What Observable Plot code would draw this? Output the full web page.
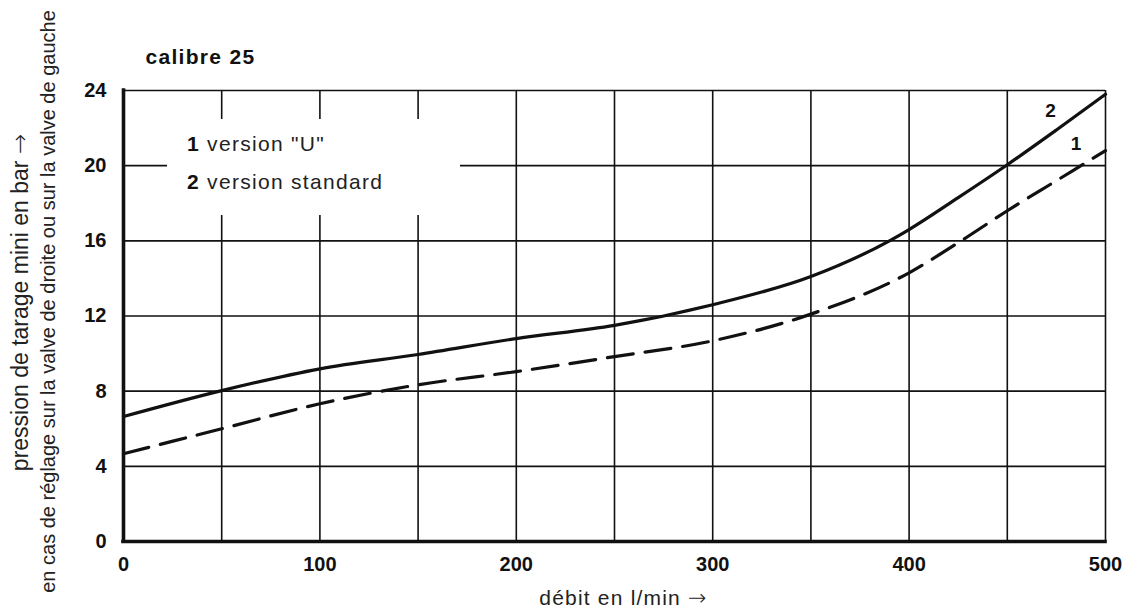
<!DOCTYPE html>
<html>
<head>
<meta charset="utf-8">
<script src="https://cdn.jsdelivr.net/npm/d3@7"></script>
<script src="https://cdn.jsdelivr.net/npm/@observablehq/plot@0.6"></script>
<style>
  html, body { margin: 0; padding: 0; background: #fff; }
  #wrap { position: relative; width: 1123px; height: 614px; font-family: "Liberation Sans", Arial, sans-serif; }
  #legend { position: absolute; left: 167px; top: 119px; width: 293px; height: 96px; background: #fff; color: #222; font-size: 21px; letter-spacing: 1.3px; }
  #legend div { position: absolute; left: 20px; white-space: nowrap; }
  #legend b { color: #111; }
</style>
</head>
<body>
<div id="wrap"></div>
<script>
// ---- data ----
const title = "calibre 25";
const xLabel = "débit en l/min →";
const yLabel1 = "pression de tarage mini en bar →";
const yLabel2 = "en cas de réglage sur la valve de droite ou sur la valve de gauche";

const xTicks = [0, 100, 200, 300, 400, 500];
const yTicks = [0, 4, 8, 12, 16, 20, 24];
const xGrid = [50, 100, 150, 200, 250, 300, 350, 400, 450, 500];
const yGrid = [4, 8, 12, 16, 20, 24];

// series 2 : version standard (solid)
const flowStd  = [0, 50, 100, 150, 200, 250, 300, 350, 390, 400, 425, 450, 475, 500];
const pressStd = [6.65, 8.03, 9.19, 9.95, 10.8, 11.5, 12.6, 14.1, 16.0, 16.6, 18.3, 20.05, 21.9, 23.8];
// series 1 : version "U" (dashed)
const flowU  = [0, 50, 100, 150, 200, 250, 300, 350, 400, 425, 450, 475, 500];
const pressU = [4.67, 6.0, 7.33, 8.34, 9.04, 9.84, 10.68, 12.1, 14.3, 15.9, 17.6, 19.2, 20.8];

const legendItems = [
  {id: "1", label: 'version "U"'},
  {id: "2", label: "version standard"}
];
const curveLabelIds = ["2", "1"];
const curveLabelX = [472, 485];
const curveLabelY = [22.9, 21.15];

// ---- build ----
const std = flowStd.map((x, i) => ({x, y: pressStd[i]}));
const ver = flowU.map((x, i) => ({x, y: pressU[i]}));
const curveLabels = curveLabelIds.map((id, i) => ({id, x: curveLabelX[i], y: curveLabelY[i]}));

const font = "'Liberation Sans', Arial, sans-serif";
const ink = "#111";

const chart = Plot.plot({
  width: 1123,
  height: 614,
  marginLeft: 123,
  marginRight: 18,
  marginTop: 90,
  marginBottom: 73,
  style: {fontFamily: font, background: "#fff", color: ink},
  x: {domain: [0, 500]},
  y: {domain: [0, 24]},
  marks: [
    Plot.ruleX(xGrid, {stroke: ink, strokeWidth: 1.6}),
    Plot.ruleY(yGrid, {stroke: ink, strokeWidth: 1.6}),
    Plot.axisX(xTicks, {tickSize: 0, tickPadding: 15, fontSize: 20, fontWeight: "bold", label: null, fill: ink}),
    Plot.axisY(yTicks, {tickSize: 0, tickPadding: 17, fontSize: 20, fontWeight: "bold", label: null, fill: ink}),
    Plot.line(std, {x: "x", y: "y", stroke: ink, strokeWidth: 3.2, curve: "monotone-x"}),
    Plot.line(ver, {x: "x", y: "y", stroke: ink, strokeWidth: 3.2, curve: "monotone-x", strokeDasharray: "26,12"}),
    Plot.ruleX([0], {stroke: ink, strokeWidth: 3.6, strokeLinecap: "square"}),
    Plot.ruleY([0], {stroke: ink, strokeWidth: 3.6, strokeLinecap: "square"}),
    Plot.text(curveLabels, {x: "x", y: "y", text: "id", fontSize: 19, fontWeight: "bold", fill: ink}),
    Plot.text([title], {frameAnchor: "top-left", text: d => d, dx: 22, dy: -27, textAnchor: "start", lineAnchor: "bottom", fontSize: 21, fontWeight: "bold", fill: ink}),
    Plot.text([xLabel], {frameAnchor: "bottom", text: d => d, dx: 9, dy: 63, lineAnchor: "bottom", fontSize: 21, fill: "#222"}),
    Plot.text([yLabel1], {frameAnchor: "left", text: d => d, rotate: -90, dx: -103, dy: -13.5, lineAnchor: "middle", textAnchor: "middle", fontSize: 23, fill: "#222"}),
    Plot.text([yLabel2], {frameAnchor: "left", text: d => d, rotate: -90, dx: -75, dy: -14.5, lineAnchor: "middle", textAnchor: "middle", fontSize: 20, fill: "#222"})
  ]
});

// text refinements: wider letter spacing and a full-size arrow glyph
d3.select(chart).selectAll("text").each(function () {
  const t = this.textContent;
  const sel = d3.select(this);
  if (t === title) sel.style("letter-spacing", "1.3px");
  if (t === xLabel) sel.style("letter-spacing", "1.2px");
  if (t.endsWith("→")) {
    const head = t.slice(0, -1);
    sel.text(head);
    sel.append("tspan").attr("font-family", "'DejaVu Sans', sans-serif").attr("font-weight", "200").attr("font-size", "1.05em").text("→");
  }
});

const wrap = document.getElementById("wrap");
wrap.appendChild(chart);

const legend = document.createElement("div");
legend.id = "legend";
legendItems.forEach((d, i) => {
  const row = document.createElement("div");
  row.style.top = (13 + i * 38) + "px";
  const b = document.createElement("b");
  b.textContent = d.id;
  row.appendChild(b);
  row.appendChild(document.createTextNode(" " + d.label));
  legend.appendChild(row);
});
wrap.appendChild(legend);
</script>
</body>
</html>
